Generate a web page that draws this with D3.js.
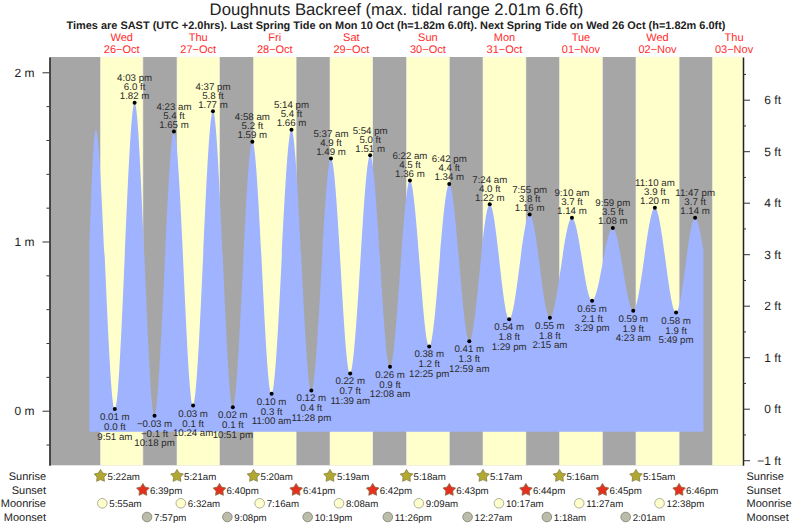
<!DOCTYPE html>
<html>
<head>
<meta charset="utf-8">
<title>Doughnuts Backreef</title>
<script src="https://cdn.jsdelivr.net/npm/d3@7/dist/d3.min.js"></script>
<style>
    body { margin: 0; background: #fff; }
    svg { display: block; }
    text { font-family: "Liberation Sans", Arial, sans-serif; fill: #222; text-rendering: geometricPrecision; }
</style>
</head>
<body>
<svg id="chart" width="793" height="525"></svg>
<script>
var titleText = 'Doughnuts Backreef (max. tidal range 2.01m 6.6ft)';
var subtitleText = 'Times are SAST (UTC +2.0hrs). Last Spring Tide on Mon 10 Oct (h=1.82m 6.0ft). Next Spring Tide on Wed 26 Oct (h=1.82m 6.0ft)';

var dayNames = ['Wed', 'Thu', 'Fri', 'Sat', 'Sun', 'Mon', 'Tue', 'Wed', 'Thu'];
var dayDates = ['26 Oct', '27 Oct', '28 Oct', '29 Oct', '30 Oct', '31 Oct', '01 Nov', '02 Nov', '03 Nov'];

// first and last entries are the unlabelled ends of the curve
var curveStart = {time: '26 Oct 1:51 am', level: 0.98};
var firstPeak = {time: '26 Oct 3:52 am', level: 1.66};
var curveEnd = {time: '03 Nov 2:24 am', level: 0.95};

var tideTimes = [
    '26 Oct 9:51 am', '26 Oct 4:03 pm', '26 Oct 10:18 pm',
    '27 Oct 4:23 am', '27 Oct 10:24 am', '27 Oct 4:37 pm', '27 Oct 10:51 pm',
    '28 Oct 4:58 am', '28 Oct 11:00 am', '28 Oct 5:14 pm', '28 Oct 11:28 pm',
    '29 Oct 5:37 am', '29 Oct 11:39 am', '29 Oct 5:54 pm',
    '30 Oct 12:08 am', '30 Oct 6:22 am', '30 Oct 12:25 pm', '30 Oct 6:42 pm',
    '31 Oct 12:59 am', '31 Oct 7:24 am', '31 Oct 1:29 pm', '31 Oct 7:55 pm',
    '01 Nov 2:15 am', '01 Nov 9:10 am', '01 Nov 3:29 pm', '01 Nov 9:59 pm',
    '02 Nov 4:23 am', '02 Nov 11:10 am', '02 Nov 5:49 pm', '02 Nov 11:47 pm'
];
var tideMetres = [
    0.01, 1.82, -0.03,
    1.65, 0.03, 1.77, 0.02,
    1.59, 0.10, 1.66, 0.12,
    1.49, 0.22, 1.51,
    0.26, 1.36, 0.38, 1.34,
    0.41, 1.22, 0.54, 1.16,
    0.55, 1.14, 0.65, 1.08,
    0.59, 1.20, 0.58, 1.14
];
var tideFeet = [
    '0.0', '6.0', '-0.1',
    '5.4', '0.1', '5.8', '0.1',
    '5.2', '0.3', '5.4', '0.4',
    '4.9', '0.7', '5.0',
    '0.9', '4.5', '1.2', '4.4',
    '1.3', '4.0', '1.8', '3.8',
    '1.8', '3.7', '2.1', '3.5',
    '1.9', '3.9', '1.9', '3.7'
];

var sunrises = [
    '26 Oct 5:22 am', '27 Oct 5:21 am', '28 Oct 5:20 am', '29 Oct 5:19 am',
    '30 Oct 5:18 am', '31 Oct 5:17 am', '01 Nov 5:16 am', '02 Nov 5:15 am'
];
var sunsets = [
    '26 Oct 6:39 pm', '27 Oct 6:40 pm', '28 Oct 6:41 pm', '29 Oct 6:42 pm',
    '30 Oct 6:43 pm', '31 Oct 6:44 pm', '01 Nov 6:45 pm', '02 Nov 6:46 pm'
];
var moonrises = [
    '26 Oct 5:55 am', '27 Oct 6:32 am', '28 Oct 7:16 am', '29 Oct 8:08 am',
    '30 Oct 9:09 am', '31 Oct 10:17 am', '01 Nov 11:27 am', '02 Nov 12:38 pm'
];
var moonsets = [
    '26 Oct 7:57 pm', '27 Oct 9:08 pm', '28 Oct 10:19 pm', '29 Oct 11:26 pm',
    '31 Oct 12:27 am', '01 Nov 1:18 am', '02 Nov 2:01 am'
];
var lastSunrise = '03 Nov 5:14 am';

var metreTicks = [0, 1, 2];
var metreMinorTicks = [-0.2, 0.2, 0.4, 0.6, 0.8, 1.2, 1.4, 1.6, 1.8];
var feetTicks = [-1, 0, 1, 2, 3, 4, 5, 6];
var feetMinorTicks = [-0.5, 0.5, 1.5, 2.5, 3.5, 4.5, 5.5, 6.5];

var parseTime = d3.utcParse('%d %b %Y %I:%M %p');

function toDate(s) {
    // the reference runs Oct-Nov of one year, the year itself is not shown
    var parts = s.split(' ');
    return parseTime(parts[0] + ' ' + parts[1] + ' 2016 ' + parts[2] + ' ' + parts[3]);
}

function clockText(s, joined) {
    var parts = s.split(' ');
    return parts[2] + (joined ? '' : ' ') + parts[3];
}

function minus(s) {
    return String(s).replace('-', '\u2212');
}

var left = 49.5, right = 743, top_ = 57, bottom = 465.3;

var x = d3.scaleUtc()
    .domain([toDate('25 Oct 1:22 pm'), toDate('03 Nov 2:48 pm')])
    .range([left, right]);
var yM = d3.scaleLinear().domain([-0.3227, 2.0904]).range([bottom, top_]);
var yFt = d3.scaleLinear().domain([-1.099, 6.829]).range([bottom, top_]);

var svg = d3.select('#chart');

svg.append('text').attr('x', 396.5).attr('y', 14.5).attr('text-anchor', 'middle')
    .style('font-size', '16.7px').text(titleText);
svg.append('text').attr('x', 396).attr('y', 28.7).attr('text-anchor', 'middle')
    .style('font-size', '10.95px').style('font-weight', 'bold').text(subtitleText);

dayNames.forEach(function (name, i) {
    var noon = x(toDate(dayDates[i] + ' 12:00 pm'));
    svg.append('text').attr('x', noon).attr('y', 41).attr('text-anchor', 'middle')
        .style('font-size', '11px').style('fill', '#ff2b2b').text(name);
    svg.append('text').attr('x', noon).attr('y', 53).attr('text-anchor', 'middle')
        .style('font-size', '11px').style('fill', '#ff2b2b')
        .text(dayDates[i].replace(' ', '\u2212'));
});

// night background and the daylight bands on top of it
svg.append('rect').attr('x', left).attr('y', top_)
    .attr('width', right - left).attr('height', bottom - top_).attr('fill', '#a6a6a6');

var daylight = sunrises.map(function (s, i) {
    return [toDate(s), toDate(sunsets[i])];
});
daylight.push([toDate(lastSunrise), x.domain()[1]]);

svg.selectAll('rect.day').data(daylight).enter().append('rect')
    .attr('class', 'day')
    .attr('x', function (d) { return x(d[0]); })
    .attr('y', top_)
    .attr('width', function (d) { return x(d[1]) - x(d[0]); })
    .attr('height', bottom - top_)
    .attr('fill', '#ffffcc')
    .attr('stroke', '#f2f2e6')
    .attr('stroke-width', 0.6);

// tide curve
var tides = tideTimes.map(function (t, i) {
    return {time: toDate(t), label: clockText(t), level: tideMetres[i], feet: tideFeet[i]};
});
var curvePoints = [
    {time: toDate(curveStart.time), level: curveStart.level},
    {time: toDate(firstPeak.time), level: firstPeak.level}
].concat(tides, [{time: toDate(curveEnd.time), level: curveEnd.level}]);

var baseLevel = -0.125;
var area = d3.area()
    .x(function (d) { return x(d.time); })
    .y0(yM(baseLevel))
    .y1(function (d) { return yM(d.level); })
    .curve(d3.curveMonotoneX);

svg.append('path').datum(curvePoints).attr('d', area).attr('fill', '#9fb3ff');

// axes
function styleAxis(g, width) {
    g.selectAll('path').attr('stroke', '#222').attr('stroke-width', width);
    g.selectAll('line').attr('stroke', '#333');
    g.selectAll('text').style('font-size', '12px').style('fill', '#222');
}

var leftAxis = svg.append('g').attr('transform', 'translate(' + left + ',0)')
    .call(d3.axisLeft(yM).tickValues(metreTicks).tickSize(7).tickSizeOuter(0).tickPadding(8)
        .tickFormat(function (d) { return d + ' m'; }));
styleAxis(leftAxis, 1.5);

var leftMinor = svg.append('g').attr('transform', 'translate(' + left + ',0)')
    .call(d3.axisLeft(yM).tickValues(metreMinorTicks).tickSize(3).tickFormat(''));
leftMinor.select('path').remove();
leftMinor.selectAll('line').attr('stroke', '#333');

var rightAxis = svg.append('g').attr('transform', 'translate(' + right + ',0)')
    .call(d3.axisRight(yFt).tickValues(feetTicks).tickSize(7).tickSizeOuter(0).tickPadding(31)
        .tickFormat(function (d) { return minus(d) + ' ft'; }));
styleAxis(rightAxis, 1.5);
rightAxis.selectAll('text').attr('text-anchor', 'end').attr('x', 38);

var rightMinor = svg.append('g').attr('transform', 'translate(' + right + ',0)')
    .call(d3.axisRight(yFt).tickValues(feetMinorTicks).tickSize(3).tickFormat(''));
rightMinor.select('path').remove();
rightMinor.selectAll('line').attr('stroke', '#333');

// high / low markers and their three line labels
var isHigh = function (d, i) {
    var prev = i > 0 ? tides[i - 1].level : firstPeak.level;
    return d.level > prev;
};

var labels = svg.selectAll('g.tide').data(tides).enter().append('g')
    .attr('class', 'tide')
    .attr('transform', function (d) { return 'translate(' + x(d.time) + ',' + yM(d.level) + ')'; });

labels.append('circle').attr('r', 2).attr('fill', '#000');

labels.each(function (d, i) {
    var lines = [minus(d.level.toFixed(2)) + ' m', minus(d.feet) + ' ft', d.label];
    var offsets = [11, 21, 30.5];
    if (isHigh(d, i)) {
        offsets = [-3.5, -12.5, -21.5];
    }
    var g = d3.select(this);
    lines.forEach(function (line, k) {
        g.append('text').attr('y', offsets[k]).attr('text-anchor', 'middle')
            .style('font-size', '9.7px').style('fill', '#2a2a2a').text(line);
    });
});

// sun and moon rows
var starLine = d3.lineRadial()
    .angle(function (d) { return d * Math.PI / 5; })
    .radius(function (d) { return d % 2 ? 3.6 : 6.6; })
    .curve(d3.curveLinearClosed);
var starPath = starLine(d3.range(10));

function drawRow(name, times, rowY, drawMark) {
    svg.append('text').attr('x', 46).attr('y', rowY + 4).attr('text-anchor', 'end')
        .style('font-size', '11px').text(name);
    svg.append('text').attr('x', 746.5).attr('y', rowY + 4)
        .style('font-size', '11px').text(name);
    times.forEach(function (t) {
        var px = x(toDate(t));
        drawMark(svg.append('g').attr('transform', 'translate(' + px + ',' + rowY + ')'));
        svg.append('text').attr('x', px + 7).attr('y', rowY + 3.5)
            .style('font-size', '9.7px').text(clockText(t, true));
    });
}

drawRow('Sunrise', sunrises, 476, function (g) {
    g.append('path').attr('d', starPath).attr('fill', '#b0a832').attr('stroke', '#8a8040').attr('stroke-width', 0.8);
});
drawRow('Sunset', sunsets, 490, function (g) {
    g.append('path').attr('d', starPath).attr('fill', '#e4301f').attr('stroke', '#8a6a40').attr('stroke-width', 0.8);
});
drawRow('Moonrise', moonrises, 503.3, function (g) {
    g.append('circle').attr('r', 4.8).attr('fill', '#ffffcc').attr('stroke', '#9a9a8a').attr('stroke-width', 0.8);
});
drawRow('Moonset', moonsets, 517, function (g) {
    g.append('circle').attr('r', 4.8).attr('fill', '#bcbcaa').attr('stroke', '#7f7f72').attr('stroke-width', 0.8);
});
</script>
</body>
</html>
